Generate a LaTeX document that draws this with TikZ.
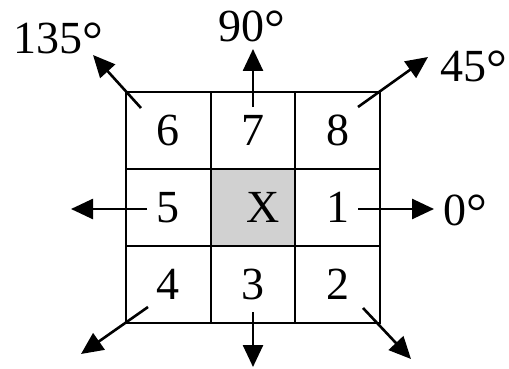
\documentclass[tikz,border=0pt]{standalone}
\usepackage{fontspec}
\setmainfont{Liberation Serif}
\usepackage{xcolor}
\usetikzlibrary{arrows.meta,positioning}
\definecolor{cellgray}{gray}{0.82}
\newcommand{\gradi}{\raisebox{-4pt}{\fontsize{52}{52}\selectfont °}}
\tikzset{
  cella/.style={draw,line width=2pt,minimum width=84.7pt,minimum height=77pt,
    inner sep=0pt,outer sep=0pt,font=\fontsize{46}{50}\selectfont},
  freccia/.style={line width=2.6pt,-{Triangle[length=22pt,width=20pt]}},
  angolo/.style={font=\fontsize{46}{50}\selectfont,inner sep=0pt}
}

\begin{document}
\begin{tikzpicture}[x=1pt,y=-1pt]
\useasboundingbox (0,0) rectangle (509,369);
% griglia 3x3
\node[cella] (c6) at (168.3,130.5) {6};
\node[cella,right=0pt of c6] (c7) {7};
\node[cella,right=0pt of c7] (c8) {8};
\node[cella,below=0pt of c6] (c5) {5};
\node[cella,fill=cellgray,right=0pt of c5] (cx) {\hspace{20pt}X};
\node[cella,right=0pt of cx] (c1) {1};
\node[cella,below=0pt of c5] (c4) {4};
\node[cella,right=0pt of c4] (c3) {3};
\node[cella,right=0pt of c3] (c2) {2};
% estremi delle frecce
\coordinate (s0) at (358,209);   \coordinate (t0) at (434,209);
\coordinate (s45) at (358,107);  \coordinate (t45) at (428,57);
\coordinate (s90) at (253,107);  \coordinate (t90) at (253,49);
\coordinate (s135) at (141,108); \coordinate (t135) at (93,55);
\coordinate (s5) at (147,209);   \coordinate (t5) at (71,209);
\coordinate (s4) at (148,307);   \coordinate (t4) at (81,354);
\coordinate (s3) at (253,312);   \coordinate (t3) at (253,367);
\coordinate (s2) at (363,308);   \coordinate (t2) at (411,359);
\draw[freccia] (s0) -- (t0);
\draw[freccia] (s45) -- (t45);
\draw[freccia] (s90) -- (t90);
\draw[freccia] (s135) -- (t135);
\draw[freccia] (s5) -- (t5);
\draw[freccia] (s4) -- (t4);
\draw[freccia] (s3) -- (t3);
\draw[freccia] (s2) -- (t2);
% etichette degli angoli
\node[angolo] (l0) at (465,212) {0\gradi};
\node[angolo] (l45) at (474,68) {45\gradi};
\node[angolo] (l90) at (252,28) {90\gradi};
\node[angolo] (l135) at (58,40) {135\gradi};
\end{tikzpicture}
\end{document}
